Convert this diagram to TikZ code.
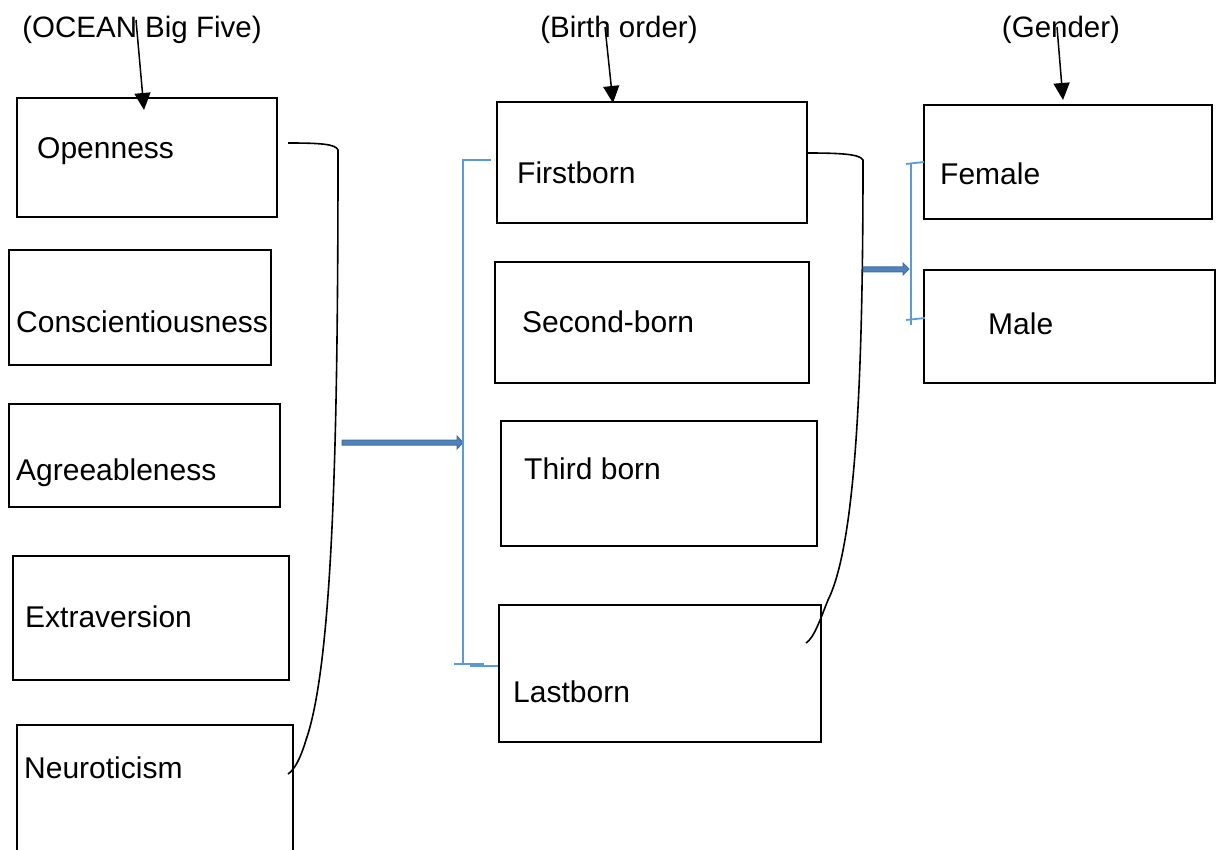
\documentclass[tikz,border=0pt]{standalone}
\usepackage{fontspec}
\setmainfont{Liberation Sans}
\usetikzlibrary{arrows.meta}
\definecolor{bracket}{HTML}{5B9BD5}
\definecolor{arrowfill}{HTML}{4F81BD}
\definecolor{arrowline}{HTML}{41719C}
\begin{document}
\begin{tikzpicture}[x=1pt,y=-1pt,
 box/.style={draw=black,line width=2pt,anchor=north west,inner sep=0pt},
 lbl/.style={anchor=mid west,inner sep=0pt,font=\fontsize{30}{36}\selectfont},
 ttl/.style={anchor=center,inner sep=0pt,font=\fontsize{29.5}{35}\selectfont},
 pointer/.style={line width=1.5pt,-{Triangle[length=17pt,width=16pt]}},
 brace/.style={line width=1.8pt,draw=bracket},
 curve/.style={line width=1.6pt},
 blockarrow/.style={fill=arrowfill,draw=arrowline,line width=1pt},
]
\useasboundingbox (0,0) rectangle (1216,850);
\clip (0,0) rectangle (1216,850);

% titles
\node[ttl] (ocean) at (142,30) {(OCEAN Big Five)};
\node[ttl] (birth) at (619,30) {(Birth order)};
\node[ttl] (gender) at (1061,30) {(Gender)};

% left column boxes
\node[box,minimum width=260,minimum height=119] (obox) at (16,97) {};
\node[box,minimum width=262,minimum height=115] (cbox) at (8,249) {};
\node[box,minimum width=271,minimum height=103] (abox) at (8,403) {};
\node[box,minimum width=276,minimum height=124] (ebox) at (12,555) {};
\node[box,minimum width=276,minimum height=150] (nbox) at (16,724) {};
\node[lbl] (otext) at (37,156) {Openness};
\node[lbl] (ctext) at (16,330) {Conscientiousness};
\node[lbl] (atext) at (16,478) {Agreeableness};
\node[lbl] (etext) at (25,625) {Extraversion};
\node[lbl] (ntext) at (24,776) {Neuroticism};

% middle column boxes
\node[box,minimum width=310,minimum height=121] (fbbox) at (496,101) {};
\node[box,minimum width=314,minimum height=121] (sbbox) at (494,261) {};
\node[box,minimum width=316,minimum height=125] (tbbox) at (500,420) {};
\node[box,minimum width=322,minimum height=137] (lbbox) at (498,604) {};
\node[lbl] (fbtext) at (517,181) {Firstborn};
\node[lbl] (sbtext) at (522,330) {Second-born};
\node[lbl] (tbtext) at (524,477) {Third born};
\node[lbl] (lbtext) at (513,700) {Lastborn};

% right column boxes
\node[box,minimum width=288,minimum height=114] (febox) at (923,104) {};
\node[box,minimum width=291,minimum height=113] (mabox) at (923,269) {};
\node[lbl] (fetext) at (940,182) {Female};
\node[lbl] (matext) at (988,332) {Male};

% pointer arrows from titles
\coordinate (p1) at (136,20);
\coordinate (p2) at (605,27);
\coordinate (p3) at (1057,27);
\draw[pointer] (p1) -- ([xshift=-3pt,yshift=-13pt]obox.north);
\draw[pointer] (p2) -- ([xshift=-39pt,yshift=-2pt]fbbox.north);
\draw[pointer] (p3) -- ([xshift=-5pt,yshift=4pt]febox.north);

% curved brackets
\coordinate (l1) at (288,143);
\coordinate (l2) at (288,774);
\draw[curve] (l1) .. controls (320,143) and (336,144) .. (338,150)
  .. controls (338,420) and (334,660) .. (306,740)
  .. controls (300,760) and (294,770) .. (l2);
\coordinate (r1) at (806,153);
\coordinate (r2) at (806,643);
\draw[curve] (r1) .. controls (840,153) and (860,154) .. (863,160)
  .. controls (863,350) and (858,540) .. (828,600)
  .. controls (820,620) and (814,638) .. (r2);

% block arrows
\filldraw[blockarrow] (342,440) -- (457,440) -- (457,436) -- (463,442.5) -- (457,449) -- (457,445) -- (342,445) -- cycle;
\filldraw[blockarrow] (863,267) -- (903,267) -- (903,263) -- (909,269) -- (903,275) -- (903,272) -- (863,272) -- cycle;

% blue brackets
\draw[brace] (491,160) -- (463,160) -- (463,664);
\draw[brace] (454,664) -- (484,664);
\draw[brace] (470,666) -- (498,666);
\draw[brace] (911,163) -- (911,325);
\draw[brace] (906,164) -- (924,162);
\draw[brace] (906,320) -- (925,318);
\end{tikzpicture}
\end{document}
